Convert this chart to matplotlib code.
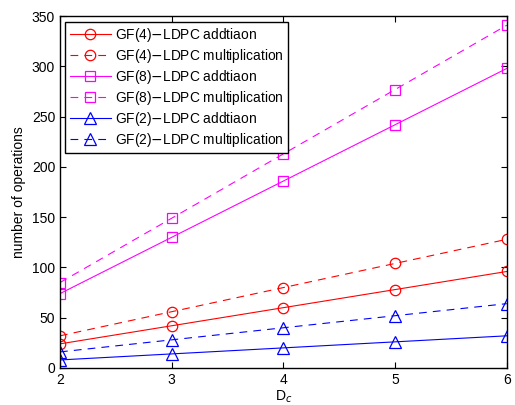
import matplotlib
matplotlib.use("Agg")
import matplotlib.pyplot as plt

plt.rcParams['font.family'] = ['Liberation Sans', 'DejaVu Sans']

dc = [2, 3, 4, 5, 6]
gf4_add = [24, 42, 60, 78, 96]
gf4_mul = [32, 56, 80, 104, 128]
gf8_add = [74, 130, 186, 242, 298]
gf8_mul = [85, 149, 213, 277, 341]
gf2_add = [8, 14, 20, 26, 32]
gf2_mul = [16, 28, 40, 52, 64]

fig = plt.figure(figsize=(5.15, 4.05), dpi=100)
ax = fig.add_axes([0.1165, 0.0914, 0.8675, 0.8686])

dash = (0, (7, 5.5))
kw = dict(markerfacecolor='none', linewidth=0.8, markeredgewidth=0.9)
ax.plot(dc, gf4_add, '-', color='#ff0000', marker='o', markersize=7.5, label='GF(4)$-$LDPC addtiaon', **kw)
ax.plot(dc, gf4_mul, linestyle=dash, color='#ff0000', marker='o', markersize=7.5, label='GF(4)$-$LDPC multiplication', **kw)
ax.plot(dc, gf8_add, '-', color='#ff00ff', marker='s', markersize=6.5, label='GF(8)$-$LDPC addtiaon', **kw)
ax.plot(dc, gf8_mul, linestyle=dash, color='#ff00ff', marker='s', markersize=6.5, label='GF(8)$-$LDPC multiplication', **kw)
ax.plot(dc, gf2_add, '-', color='#0000ff', marker='^', markersize=8, label='GF(2)$-$LDPC addtiaon', **kw)
ax.plot(dc, gf2_mul, linestyle=dash, color='#0000ff', marker='^', markersize=8, label='GF(2)$-$LDPC multiplication', **kw)

ax.set_xlim(2, 6)
ax.set_ylim(0, 350)
ax.set_xticks(dc)
ax.set_yticks(range(0, 351, 50))
ax.tick_params(direction='in', top=True, right=True, labelsize=10, length=4)
for s in ax.spines.values():
    s.set_linewidth(1.0)

ax.set_xlabel('D$_c$', fontsize=10, labelpad=1)
ax.set_ylabel('number of operations', fontsize=10)

leg = ax.legend(loc='upper left', fontsize=9.9, frameon=True, fancybox=False,
                edgecolor='black', framealpha=1, handlelength=3.0,
                handletextpad=0.3, labelspacing=0.22, borderpad=0.3,
                borderaxespad=0.4)
leg.get_frame().set_linewidth(1.0)

fig.savefig('out.png', dpi=100)
